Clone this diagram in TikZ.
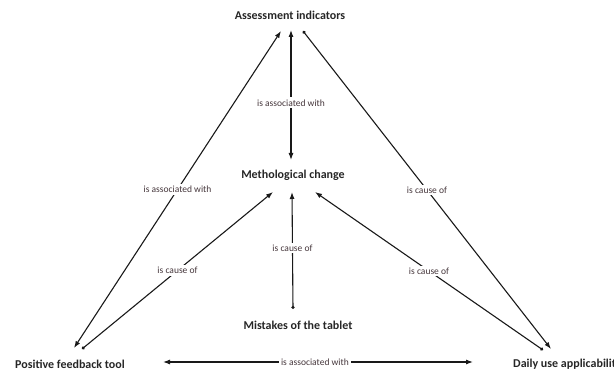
\documentclass[tikz,border=0pt]{standalone}
\usepackage{fontspec}
\setmainfont{Carlito}
\usetikzlibrary{arrows.meta,calc}
\definecolor{lbl}{RGB}{70,55,60}
\begin{document}
\begin{tikzpicture}[x=1pt,y=-1pt,
  concept/.style={font=\bfseries\fontsize{12}{14}\selectfont, inner sep=0pt, text=black!85},
  rel/.style={line width=1.1pt, draw=black!90},
  both/.style={rel, {Latex[length=7pt,width=5pt]}-{Latex[length=7pt,width=5pt]}},
  dotarrow/.style={rel, {Circle[length=3.2pt]}-{Latex[length=7pt,width=5pt]}},
  lab/.style={font=\fontsize{9.5}{11}\selectfont, text=lbl, fill=white, inner sep=2pt}]
\useasboundingbox (0,0) rectangle (614,371);
% concepts
\node[concept] (ai) at (290,15) {Assessment indicators};
\node[concept] (mc) at (293,175) {Methological change};
\node[concept] (mt) at (298,325) {Mistakes of the tablet};
\node[concept] (pf) at (70,364) {Positive feedback tool};
\node[concept, anchor=west] (du) at (513,364) {Daily use applicability};
% endpoints
\coordinate (ai1) at (281,31);
\coordinate (ai2) at (291,30);
\coordinate (ai3) at (303,31);
\coordinate (mc1) at (273,192);
\coordinate (mc2) at (292,192);
\coordinate (mc3) at (315,192);
\coordinate (mcT) at (291,160);
\coordinate (mt1) at (293,309);
\coordinate (pf1) at (74,348);
\coordinate (pf2) at (82,349);
\coordinate (pf3) at (163,362);
\coordinate (du1) at (551,349);
\coordinate (du2) at (543,350);
\coordinate (du3) at (473,362);
% connectors
\draw[both] (ai1) -- node[lab,pos=0.5] {is associated with} (pf1);
\draw[both] (ai2) -- node[lab,pos=0.56] {is associated with} (mcT);
\draw[dotarrow] (ai3) -- node[lab,pos=0.5] {is cause of} (du1);
\draw[dotarrow] (pf2) -- node[lab,pos=0.5] {is cause of} (mc1);
\draw[dotarrow] (mt1) -- node[lab,pos=0.52] {is cause of} (mc2);
\draw[dotarrow] (du2) -- node[lab,pos=0.5] {is cause of} (mc3);
\draw[both] (pf3) -- node[lab,pos=0.49] {is associated with} (du3);
\end{tikzpicture}
\end{document}
